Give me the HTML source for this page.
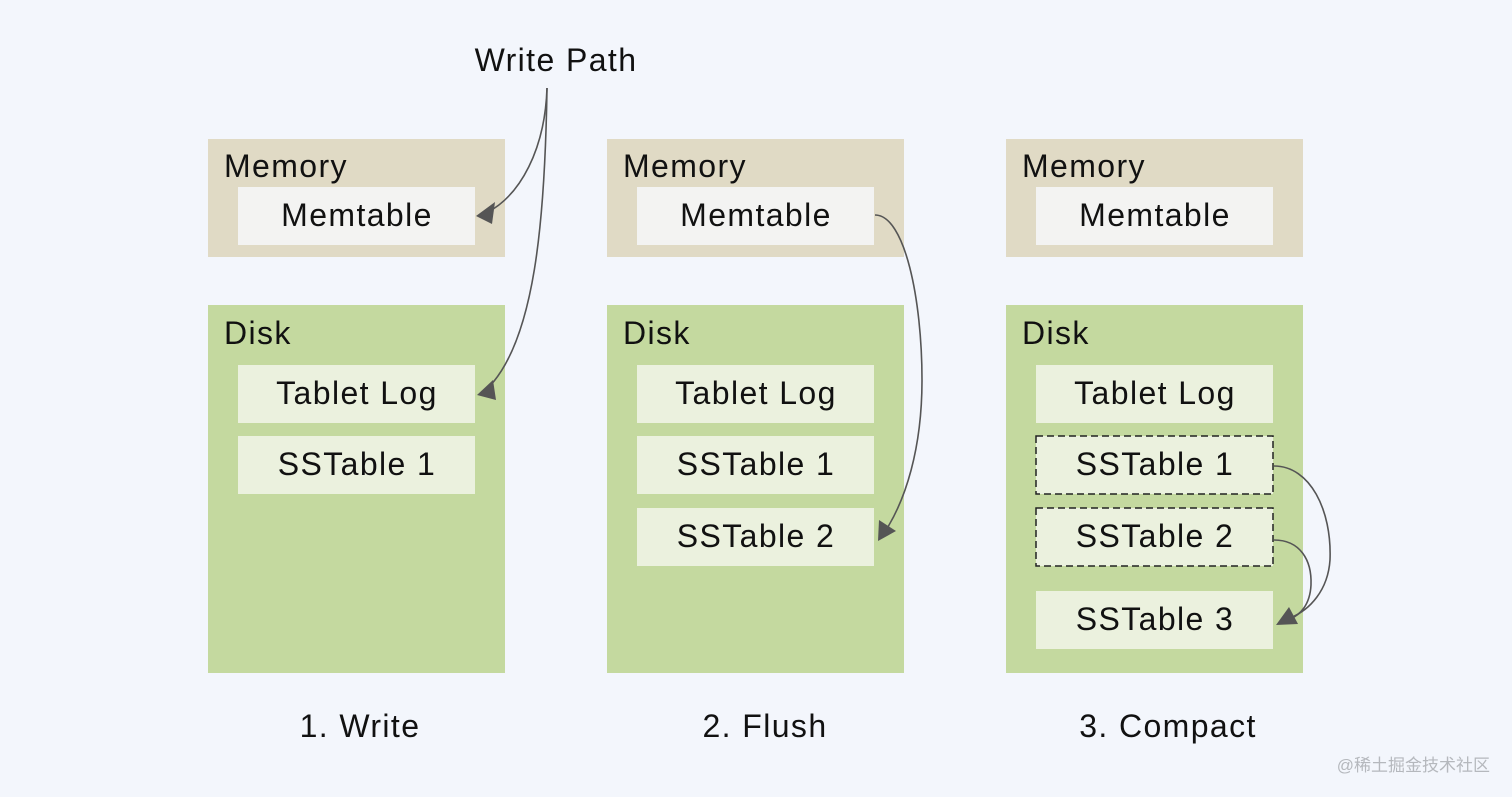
<!DOCTYPE html>
<html><head><meta charset="utf-8"><style>
html,body{margin:0;padding:0;background:#f3f6fc;}
svg{display:block}
text{font-family:"Liberation Sans","Noto Sans CJK SC",sans-serif;fill:#111;}
</style></head><body>
<svg width="1512" height="797" viewBox="0 0 1512 797" xmlns="http://www.w3.org/2000/svg">
<rect width="1512" height="797" fill="#f3f6fc"/>
<g font-size="32" letter-spacing="1.4">
<rect x="208" y="139" width="297" height="118" fill="#e0dac5"/>
<rect x="238" y="187" width="237" height="58" fill="#f3f3f2"/>
<text x="224" y="177">Memory</text>
<text x="357" y="226" text-anchor="middle">Memtable</text>
<rect x="208" y="305" width="297" height="368" fill="#c4d99f"/>
<text x="224" y="344">Disk</text>
<rect x="238" y="365" width="237" height="58" fill="#ebf1de"/>
<text x="357" y="404" text-anchor="middle">Tablet Log</text>
<rect x="238" y="436" width="237" height="58" fill="#ebf1de"/>
<text x="357" y="475" text-anchor="middle">SSTable 1</text>

<rect x="607" y="139" width="297" height="118" fill="#e0dac5"/>
<rect x="637" y="187" width="237" height="58" fill="#f3f3f2"/>
<text x="623" y="177">Memory</text>
<text x="756" y="226" text-anchor="middle">Memtable</text>
<rect x="607" y="305" width="297" height="368" fill="#c4d99f"/>
<text x="623" y="344">Disk</text>
<rect x="637" y="365" width="237" height="58" fill="#ebf1de"/>
<text x="756" y="404" text-anchor="middle">Tablet Log</text>
<rect x="637" y="436" width="237" height="58" fill="#ebf1de"/>
<text x="756" y="475" text-anchor="middle">SSTable 1</text>
<rect x="637" y="508" width="237" height="58" fill="#ebf1de"/>
<text x="756" y="547" text-anchor="middle">SSTable 2</text>

<rect x="1006" y="139" width="297" height="118" fill="#e0dac5"/>
<rect x="1036" y="187" width="237" height="58" fill="#f3f3f2"/>
<text x="1022" y="177">Memory</text>
<text x="1155" y="226" text-anchor="middle">Memtable</text>
<rect x="1006" y="305" width="297" height="368" fill="#c4d99f"/>
<text x="1022" y="344">Disk</text>
<rect x="1036" y="365" width="237" height="58" fill="#ebf1de"/>
<text x="1155" y="404" text-anchor="middle">Tablet Log</text>
<rect x="1036" y="436" width="237" height="58" fill="#ebf1de" stroke="#222" stroke-width="1.5" stroke-dasharray="7,4"/>
<text x="1155" y="475" text-anchor="middle">SSTable 1</text>
<rect x="1036" y="508" width="237" height="58" fill="#ebf1de" stroke="#222" stroke-width="1.5" stroke-dasharray="7,4"/>
<text x="1155" y="547" text-anchor="middle">SSTable 2</text>
<rect x="1036" y="591" width="237" height="58" fill="#ebf1de"/>
<text x="1155" y="630" text-anchor="middle">SSTable 3</text>

<text x="556" y="71" text-anchor="middle">Write Path</text>
<text x="360" y="737" text-anchor="middle">1. Write</text>
<text x="765" y="737" text-anchor="middle">2. Flush</text>
<text x="1168" y="737" text-anchor="middle">3. Compact</text>
</g>
<text x="1490" y="771" text-anchor="end" font-size="17" style="fill:#b5b8bd">@稀土掘金技术社区</text>
<g fill="none" stroke="#555" stroke-width="1.6">
<path d="M547,88 C545,150 520,195 488,212"/>
<path d="M547,88 C545,220 535,340 488,388"/>
<path d="M875,215 C905,215 922,300 922,380 C922,450 905,500 886,530"/>
<path d="M1274,466 C1310,466 1332,510 1330,560 C1328,590 1310,610 1290,618"/>
<path d="M1274,540 C1300,540 1312,560 1311,585 C1310,605 1300,615 1290,619"/>
</g>
<g fill="#555">
<polygon points="476,216 495,202 492,224"/>
<polygon points="477,395 493,380 496,400"/>
<polygon points="878,541 879,520 896,531"/>
<polygon points="1276,625 1289,607 1298,624"/>
</g>
</svg>
</body></html>
